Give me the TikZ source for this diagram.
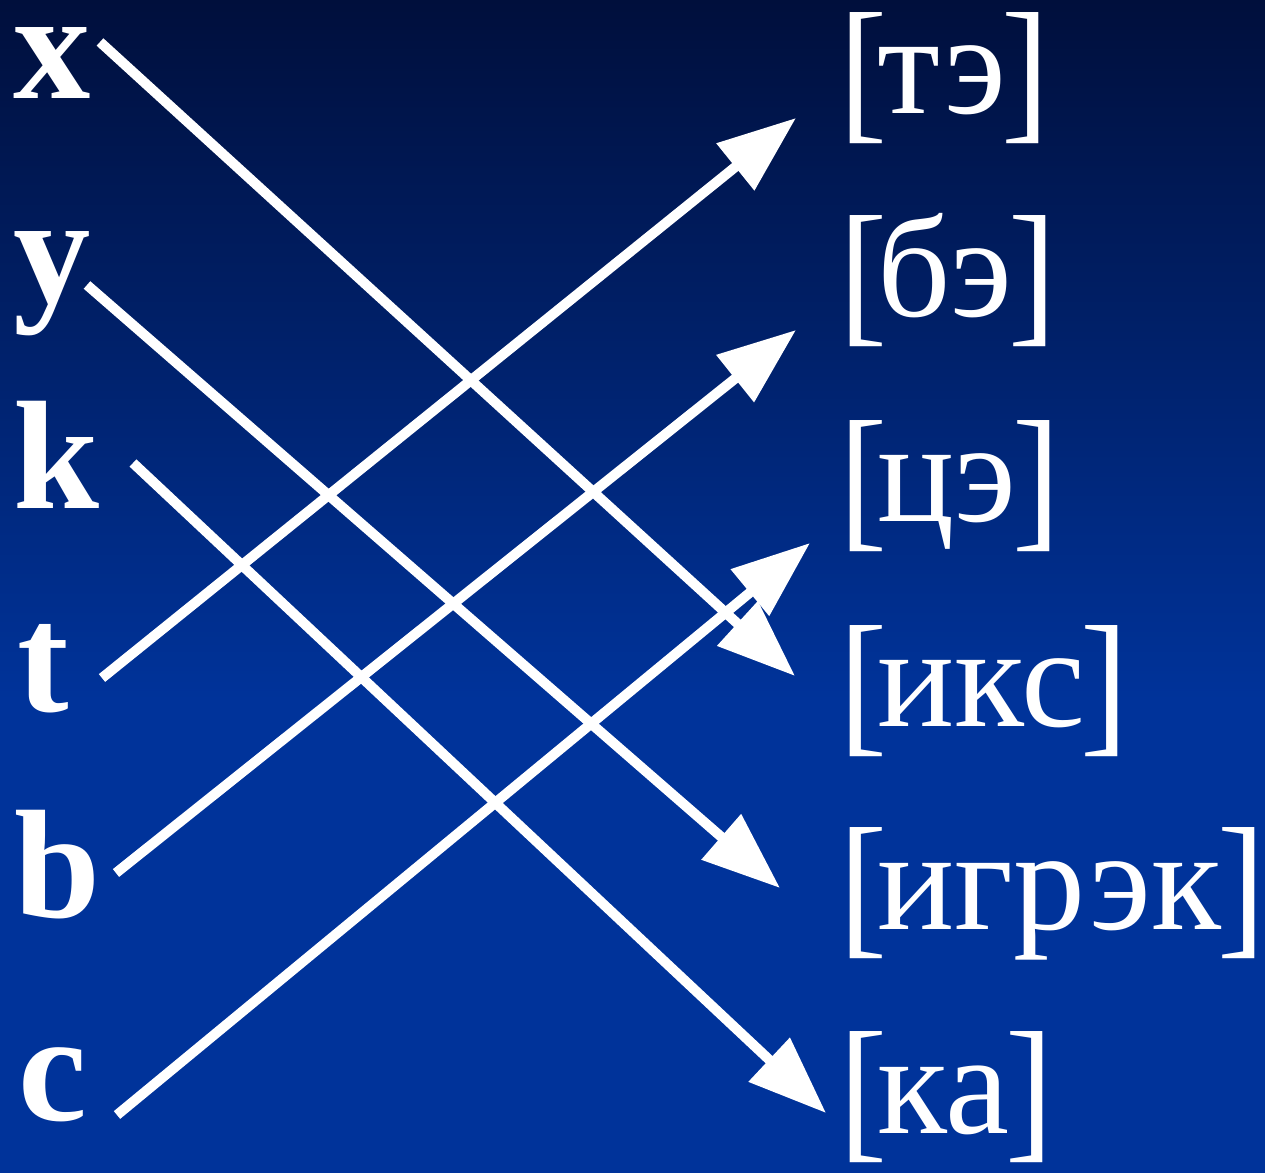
\documentclass[tikz,border=0pt]{standalone}
\usepackage{fontspec}
\setmainfont{Liberation Serif}
\usetikzlibrary{arrows.meta, positioning, calc}
\definecolor{bgtop}{HTML}{000F3C}
\definecolor{bgbot}{HTML}{00339A}
% tall brackets round a sound
\newcommand{\sndbr}[1]{\raisebox{-0.06em}{\scalebox{1}[1.10]{[}}\kern-0.07em#1\kern-0.03em\raisebox{-0.06em}{\scalebox{1}[1.10]{]}}}

\begin{document}
\begin{tikzpicture}[
  letter/.style={text=white, font=\fontsize{44}{52}\selectfont\bfseries,
    inner sep=0pt, anchor=base west},
  sound/.style={text=white, font=\fontsize{41}{50}\selectfont,
    inner sep=0pt, anchor=base west},
  arr/.style={-{Triangle[length=0.78cm, width=0.58cm]}, white, line width=0.1cm},
]
  \useasboundingbox (0,0) rectangle (12.65,-11.73);
  \fill[bgbot] (0,0) rectangle (12.65,-11.73);
  \shade[top color=bgtop, bottom color=bgbot] (0,0) rectangle (12.65,-7.0);

  % latin letters
  \node[letter] (lx) at (0.13,-0.99) {x};
  \node[letter] (ly) at (0.13,-3.03) {y};
  \node[letter] (lk) at (0.13,-5.09) {k};
  \node[letter] (lt) at (0.17,-7.12) {t};
  \node[letter] (lb) at (0.14,-9.17) {b};
  \node[letter] (lc) at (0.18,-11.20) {c};

  % names of the letters
  \node[sound] (te) at (8.39,-1.14) {\sndbr{тэ}};
  \node[sound] (be) at (8.39,-3.17) {\sndbr{бэ}};
  \node[sound] (tse) at (8.39,-5.22) {\sndbr{цэ}};
  \node[sound] (iks) at (8.39,-7.27) {\sndbr{икс}};
  \node[sound] (igrek) at (8.39,-9.29) {\sndbr{игрэк}};
  \node[sound] (ka) at (8.39,-11.33) {\sndbr{ка}};

  % arrow ends
  \coordinate (x-s) at (1.00,-0.42);
  \coordinate (x-e) at (7.95,-6.76);
  \coordinate (y-s) at (0.87,-2.85);
  \coordinate (y-e) at (7.80,-8.88);
  \coordinate (k-s) at (1.33,-4.63);
  \coordinate (k-e) at (8.26,-11.13);
  \coordinate (t-s) at (1.02,-6.78);
  \coordinate (t-e) at (7.96,-1.18);
  \coordinate (b-s) at (1.16,-8.73);
  \coordinate (b-e) at (7.96,-3.30);
  \coordinate (c-s) at (1.17,-11.15);
  \coordinate (c-e) at (8.10,-5.43);

  \draw[arr] (x-s) -- (x-e);
  \draw[arr] (y-s) -- (y-e);
  \draw[arr] (k-s) -- (k-e);
  \draw[arr] (t-s) -- (t-e);
  \draw[arr] (b-s) -- (b-e);
  \draw[arr] (c-s) -- (c-e);
\end{tikzpicture}
\end{document}
